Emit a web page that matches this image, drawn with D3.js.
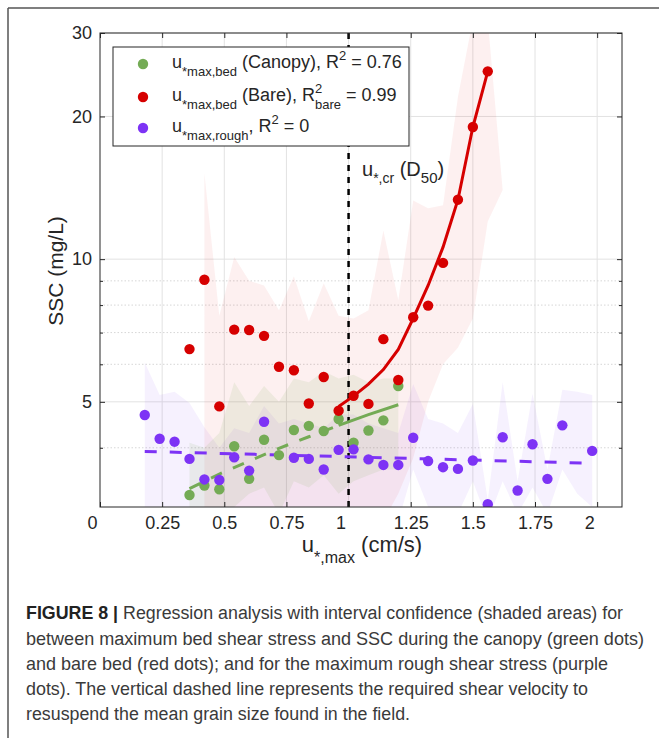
<!DOCTYPE html>
<html>
<head>
<meta charset="utf-8">
<script src="https://cdn.jsdelivr.net/npm/d3@7"></script>
<style>
  body { margin: 0; background: #fff; }
  svg { display: block; }
  text { font-family: "Liberation Sans", Arial, Helvetica, sans-serif; fill: #262626; white-space: pre; }
</style>
</head>
<body>
<svg id="chart" width="659" height="738"></svg>
<script>
// ---- data ----
const xTicks = [0, 0.25, 0.5, 0.75, 1, 1.25, 1.5, 1.75, 2];
const xTickLabels = ["0", "0.25", "0.5", "0.75", "1", "1.25", "1.5", "1.75", "2"];
const yTicks = [5, 10, 20, 30];
const yMinor = [4, 6, 7, 8, 9];
const uCrit = 1.0;

// canopy (green)
const canopyX   = [0.36, 0.42, 0.48, 0.54, 0.60, 0.66, 0.72, 0.78, 0.84, 0.90, 0.96, 1.02, 1.08, 1.14, 1.20];
const canopySSC = [3.18, 3.33, 3.27, 4.03, 3.44, 4.16, 3.86, 4.36, 4.45, 4.34, 4.60, 4.10, 4.35, 4.57, 5.40];
const canopyFitX   = [0.36, 0.48, 0.60, 0.72, 0.84, 0.96, 1.08, 1.20];
const canopyFitSSC = [3.28, 3.52, 3.75, 3.99, 4.22, 4.46, 4.70, 4.93];
const canopyBandX  = [0.36, 0.42, 0.48, 0.54, 0.60, 0.66, 0.72, 0.78, 0.84, 0.90, 0.96, 1.02, 1.08, 1.14, 1.20];
const canopyBandHi = [4.1, 4.0, 4.3, 5.5, 4.9, 5.4, 5.0, 5.6, 5.5, 5.8, 5.6, 5.7, 5.5, 5.6, 5.6];
const canopyBandLo = [2.8, 2.8, 2.8, 3.0, 3.2, 3.3, 2.9, 3.4, 3.3, 3.5, 3.2, 3.4, 3.5, 3.6, 3.6];

// bare bed (red)
const bareX   = [0.36, 0.42, 0.48, 0.54, 0.60, 0.66, 0.72, 0.78, 0.84, 0.90, 0.96, 1.02, 1.08, 1.14, 1.20, 1.26, 1.32, 1.38, 1.44, 1.50, 1.56];
const bareSSC = [6.46, 9.05, 4.89, 7.10, 7.09, 6.89, 5.93, 5.83, 4.96, 5.64, 4.79, 5.15, 4.95, 6.78, 5.56, 7.54, 7.98, 9.82, 13.35, 19.0, 24.9];
const bareFitX   = [0.96, 1.02, 1.08, 1.14, 1.20, 1.26, 1.32, 1.38, 1.44, 1.50, 1.56];
const bareFitSSC = [4.89, 5.14, 5.45, 5.85, 6.45, 7.5, 8.8, 10.6, 13.35, 19.0, 24.9];
const bareBandX  = [0.42, 0.48, 0.54, 0.60, 0.66, 0.72, 0.78, 0.84, 0.90, 0.96, 1.02, 1.08, 1.14, 1.20, 1.26, 1.32, 1.38, 1.44, 1.50, 1.56, 1.62];
const bareBandHi = [15.2, 7.6, 10.1, 9.0, 8.8, 7.8, 9.2, 7.4, 8.9, 7.6, 7.5, 7.8, 11.5, 8.2, 13.3, 12.8, 13.0, 22, 32, 32, 14];
const bareBandLo = [2.8, 2.8, 2.8, 2.8, 2.8, 2.8, 2.8, 2.8, 2.8, 2.8, 2.8, 2.8, 2.8, 3.2, 3.8, 5.0, 6.0, 6.5, 7.5, 12, 14];

// rough (purple)
const roughX   = [0.18, 0.24, 0.30, 0.36, 0.42, 0.48, 0.54, 0.60, 0.66, 0.78, 0.84, 0.90, 0.96, 1.02, 1.08, 1.14, 1.20, 1.26, 1.32, 1.38, 1.44, 1.50, 1.56, 1.62, 1.68, 1.74, 1.80, 1.86, 1.98];
const roughSSC = [4.69, 4.18, 4.12, 3.79, 3.43, 3.42, 3.82, 3.58, 4.54, 3.81, 3.79, 3.60, 3.96, 3.97, 3.78, 3.68, 3.68, 4.20, 3.75, 3.64, 3.61, 3.76, 3.04, 4.21, 3.25, 4.07, 3.44, 4.46, 3.94];
const roughFitX   = [0.18, 1.98];
const roughFitSSC = [3.93, 3.71];
const roughBandX  = [0.18, 0.24, 0.30, 0.36, 0.42, 0.48, 0.54, 0.60, 0.66, 0.72, 0.78, 0.84, 0.90, 0.96, 1.02, 1.08, 1.14, 1.20, 1.26, 1.32, 1.38, 1.44, 1.50, 1.56, 1.62, 1.68, 1.74, 1.80, 1.86, 1.92, 1.98];
const roughBandHi = [6.05, 5.17, 5.25, 4.97, 4.42, 4.0, 4.4, 4.3, 4.9, 4.5, 4.6, 4.5, 4.4, 4.7, 4.7, 4.5, 4.4, 4.3, 5.45, 4.6, 4.5, 4.3, 4.95, 3.1, 5.5, 3.4, 5.2, 3.6, 5.3, 5.25, 5.17];
const roughBandLo = [2.8, 2.8, 2.8, 2.8, 2.8, 2.8, 2.8, 2.8, 2.8, 2.8, 2.8, 2.8, 2.8, 2.8, 2.8, 2.8, 2.8, 2.8, 3.6, 3.0, 2.9, 2.9, 3.4, 2.8, 3.4, 2.9, 3.3, 2.9, 3.6, 3.2, 3.0];

const captionLines = [
  "Regression analysis with interval confidence (shaded areas) for",
  "between maximum bed shear stress and SSC during the canopy (green dots)",
  "and bare bed (red dots); and for the maximum rough shear stress (purple",
  "dots). The vertical dashed line represents the required shear velocity to",
  "resuspend the mean grain size found in the field."
];

// ---- colours ----
const cGreen = "#74ab55", cRed = "#d60000", cPurple = "#7d33f5";

const svg = d3.select("#chart");
const plot = {left: 100, top: 33, right: 622, bottom: 507};

const x = d3.scaleLinear().domain([0, 2.1]).range([plot.left, plot.right]);
const y = d3.scaleLog().domain([3, 30]).range([plot.bottom, plot.top]);

// outer frame (top and left only visible)
svg.append("line").attr("x1", 8).attr("y1", 8).attr("x2", 659).attr("y2", 8)
  .attr("stroke", "#555").attr("stroke-width", 1.5);
svg.append("line").attr("x1", 8).attr("y1", 8).attr("x2", 8).attr("y2", 738)
  .attr("stroke", "#555").attr("stroke-width", 1.5);

svg.append("clipPath").attr("id", "clip").append("rect")
  .attr("x", plot.left).attr("y", plot.top)
  .attr("width", plot.right - plot.left).attr("height", plot.bottom - plot.top);

// grid
const grid = svg.append("g");
grid.selectAll(".gx").data(xTicks.slice(1)).join("line")
  .attr("x1", d => x(d)).attr("x2", d => x(d))
  .attr("y1", plot.top).attr("y2", plot.bottom)
  .attr("stroke", "#e2e2e2").attr("stroke-width", 1);
grid.selectAll(".gy").data(yTicks).join("line")
  .attr("x1", plot.left).attr("x2", plot.right)
  .attr("y1", d => y(d)).attr("y2", d => y(d))
  .attr("stroke", "#e2e2e2").attr("stroke-width", 1);
grid.selectAll(".gm").data(yMinor).join("line")
  .attr("x1", plot.left).attr("x2", plot.right)
  .attr("y1", d => y(d)).attr("y2", d => y(d))
  .attr("stroke", "#d6d6d6").attr("stroke-width", 1).attr("stroke-dasharray", "1.5,2");

// shaded confidence bands
const data = svg.append("g").attr("clip-path", "url(#clip)");
function band(xs, lo, hi, color, op) {
  const pts = xs.map((v, i) => ({x: v, lo: lo[i], hi: hi[i]}));
  data.append("path").datum(pts)
    .attr("d", d3.area().x(d => x(d.x)).y0(d => y(d.lo)).y1(d => y(d.hi)))
    .attr("fill", color).attr("fill-opacity", op);
}
band(roughBandX, roughBandLo, roughBandHi, cPurple, 0.07);
band(bareBandX, bareBandLo, bareBandHi, cRed, 0.06);
band(canopyBandX, canopyBandLo, canopyBandHi, cGreen, 0.11);

// critical velocity line
data.append("line")
  .attr("x1", x(uCrit)).attr("x2", x(uCrit))
  .attr("y1", plot.top).attr("y2", plot.bottom)
  .attr("stroke", "#000").attr("stroke-width", 2.5).attr("stroke-dasharray", "6,6");

// fit lines
const line = d3.line().x(d => x(d[0])).y(d => y(d[1]));
const zip = (a, b) => a.map((v, i) => [v, b[i]]);
const canopyFit = zip(canopyFitX, canopyFitSSC);
data.append("path").datum(canopyFit.filter(d => d[0] <= 0.96 + 1e-9)).attr("d", line)
  .attr("fill", "none").attr("stroke", cGreen).attr("stroke-width", 3).attr("stroke-dasharray", "12,12");
data.append("path").datum(canopyFit.filter(d => d[0] >= 0.96 - 1e-9)).attr("d", line)
  .attr("fill", "none").attr("stroke", cGreen).attr("stroke-width", 3);
data.append("path").datum(zip(roughFitX, roughFitSSC)).attr("d", line)
  .attr("fill", "none").attr("stroke", cPurple).attr("stroke-width", 3).attr("stroke-dasharray", "12,13");
data.append("path").datum(zip(bareFitX, bareFitSSC)).attr("d", line)
  .attr("fill", "none").attr("stroke", cRed).attr("stroke-width", 3);

// points
function dots(xs, ys, color) {
  data.append("g").selectAll("circle").data(zip(xs, ys)).join("circle")
    .attr("cx", d => x(d[0])).attr("cy", d => y(d[1])).attr("r", 5.2).attr("fill", color);
}
dots(canopyX, canopySSC, cGreen);
dots(bareX, bareSSC, cRed);
dots(roughX, roughSSC, cPurple);

// axes
const axCol = "#262626";
const gx = svg.append("g").attr("transform", `translate(0,${plot.bottom})`)
  .call(d3.axisBottom(x).tickValues(xTicks).tickSize(-5).tickPadding(9)
    .tickFormat((d, i) => xTickLabels[i]));
gx.selectAll("text").attr("font-size", 18).attr("dx", d => Number.isInteger(d) ? -8 : 0);
svg.append("g").attr("transform", `translate(0,${plot.top})`)
  .call(d3.axisTop(x).tickValues(xTicks).tickSize(-5).tickFormat(""));
const gy = svg.append("g").attr("transform", `translate(${plot.left},0)`)
  .call(d3.axisLeft(y).tickValues(yTicks).tickSize(-5).tickPadding(8).tickFormat(d3.format("d")));
gy.selectAll("text").attr("font-size", 18);
svg.append("g").attr("transform", `translate(${plot.left},0)`)
  .call(d3.axisLeft(y).tickValues(yMinor).tickSize(-3).tickFormat(""));
svg.append("g").attr("transform", `translate(${plot.right},0)`)
  .call(d3.axisRight(y).tickValues(yTicks).tickSize(-5).tickFormat(""));
svg.append("g").attr("transform", `translate(${plot.right},0)`)
  .call(d3.axisRight(y).tickValues(yMinor).tickSize(-3).tickFormat(""));
svg.selectAll(".domain").remove();
svg.selectAll(".tick line").attr("stroke", axCol);
svg.selectAll(".tick text").attr("fill", axCol).attr("font-family", "Liberation Sans, Arial, sans-serif");

svg.append("rect").attr("x", plot.left).attr("y", plot.top)
  .attr("width", plot.right - plot.left).attr("height", plot.bottom - plot.top)
  .attr("fill", "none").attr("stroke", axCol).attr("stroke-width", 1);

// rich text helper: pieces of {s, fs, dy, stack}
function rich(g, x0, y0, pieces) {
  let cx = x0, held = 0;
  pieces.forEach(p => {
    const t = g.append("text").attr("x", cx).attr("y", y0 + (p.dy || 0))
      .attr("font-size", p.fs).attr("xml:space", "preserve").text(p.s);
    const w = t.node().getComputedTextLength();
    if (p.stack) { held = w; }
    else { cx += Math.max(w, held); held = 0; }
  });
  return cx - x0;
}
function richCentered(g, cxMid, y0, pieces) {
  const tmp = g.append("g").attr("opacity", 0);
  const w = rich(tmp, 0, 0, pieces);
  tmp.remove();
  rich(g, cxMid - w / 2, y0, pieces);
}

// legend
const leg = svg.append("g");
leg.append("rect").attr("x", 113).attr("y", 47).attr("width", 296).attr("height", 99)
  .attr("fill", "#fff").attr("stroke", axCol).attr("stroke-width", 1);
const legRows = [
  {c: cGreen, y: 64, pieces: [
    {s: "u", fs: 18}, {s: "*max,bed", fs: 13, dy: 8}, {s: " (Canopy), R", fs: 18},
    {s: "2", fs: 13, dy: -8}, {s: " = 0.76", fs: 18}]},
  {c: cRed, y: 97, pieces: [
    {s: "u", fs: 18}, {s: "*max,bed", fs: 13, dy: 8}, {s: " (Bare), R", fs: 18},
    {s: "2", fs: 13, dy: -8, stack: true}, {s: "bare", fs: 13, dy: 8}, {s: " = 0.99", fs: 18}]},
  {c: cPurple, y: 128, pieces: [
    {s: "u", fs: 18}, {s: "*max,rough", fs: 13, dy: 8}, {s: ", R", fs: 18},
    {s: "2", fs: 13, dy: -8}, {s: " = 0", fs: 18}]}
];
legRows.forEach(r => {
  leg.append("circle").attr("cx", 143).attr("cy", r.y).attr("r", 5.2).attr("fill", r.c);
  rich(leg, 172, r.y + 4, r.pieces);
});

// annotation
rich(svg.append("g"), 362, 176, [
  {s: "u", fs: 20}, {s: "*,cr", fs: 14, dy: 7}, {s: " (D", fs: 20}, {s: "50", fs: 15, dy: 7}, {s: ")", fs: 20}]);

// axis labels
richCentered(svg.append("g"), 362, 552, [
  {s: "u", fs: 22}, {s: "*,max", fs: 16, dy: 11}, {s: " (cm/s)", fs: 22}]);
svg.append("text").attr("transform", "translate(63,271) rotate(-90)")
  .attr("text-anchor", "middle").attr("font-size", 21).text("SSC (mg/L)");

// caption: font size chosen so the natural width never exceeds the target width
const capW = [597, 618, 582, 562, 384];
const capY = [619, 645, 670, 695, 720];
captionLines.forEach((s, i) => {
  const t = svg.append("text").attr("x", 26).attr("y", capY[i]).attr("font-size", 19)
    .style("fill", "#3a3a3a");
  if (i === 0) {
    t.append("tspan").attr("font-weight", "bold").style("fill", "#222").text("FIGURE 8 | ");
  }
  t.append("tspan").text(s);
  const natural = t.node().getComputedTextLength();
  const fs = Math.min(19, 19 * capW[i] / natural);
  t.attr("font-size", fs).attr("textLength", capW[i]).attr("lengthAdjust", "spacingAndGlyphs");
});
</script>
</body>
</html>
